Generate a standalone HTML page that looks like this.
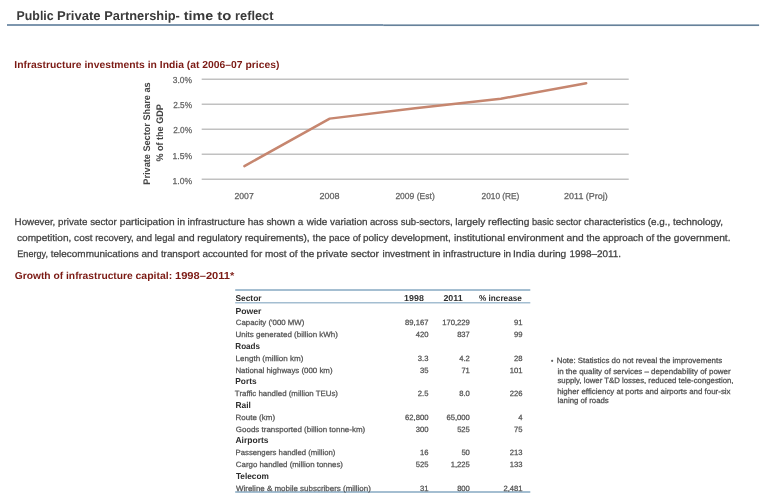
<!DOCTYPE html>
<html lang="en"><head><meta charset="utf-8"><title>Public Private Partnership- time to reflect</title>
<style>
html,body{margin:0;padding:0;background:#fff;}
body{width:771px;height:495px;overflow:hidden;}
svg{display:block;will-change:transform;font-family:'Liberation Sans', sans-serif;text-rendering:geometricPrecision;}
</style></head><body>
<svg width="771" height="495" viewBox="0 0 771 495">
<line x1="201.7" x2="628.7" y1="79.28" y2="79.28" stroke="#c1c1c1" stroke-width="1.45"/>
<line x1="201.7" x2="628.7" y1="104.25" y2="104.25" stroke="#c1c1c1" stroke-width="1.45"/>
<line x1="201.7" x2="628.7" y1="129.22" y2="129.22" stroke="#c1c1c1" stroke-width="1.45"/>
<line x1="201.7" x2="628.7" y1="154.19" y2="154.19" stroke="#c1c1c1" stroke-width="1.45"/>
<line x1="201.7" x2="628.7" y1="179.16" y2="179.16" stroke="#c1c1c1" stroke-width="1.45"/>
<polyline fill="none" stroke="#c6866f" stroke-width="2.45" stroke-linejoin="round" stroke-linecap="round" points="244.4,166.1 329.7,118.6 415.1,108.2 500.8,98.7 586.2,83.2"/>
<rect x="7" y="24" width="376.2" height="2" fill="#7d96ae"/>
<rect x="383.2" y="24.4" width="375.9" height="1.65" fill="#66819a"/>
<line x1="235.2" x2="530.3" y1="289.95" y2="289.95" stroke="#a4bed1" stroke-width="1.9"/>
<line x1="235.2" x2="530.3" y1="302.8" y2="302.8" stroke="#a4bed1" stroke-width="1.4"/>
<line x1="235.2" x2="530.3" y1="492.0" y2="492.0" stroke="#a4bed1" stroke-width="1.8"/>
<text x="16.56" y="19.90" xml:space="preserve" style="white-space:pre" textLength="40.50" lengthAdjust="spacingAndGlyphs" font-size="12.8" fill="#3a3a3a" font-weight="bold">Public </text>
<text x="56.98" y="19.90" xml:space="preserve" style="white-space:pre" textLength="47.20" lengthAdjust="spacingAndGlyphs" font-size="12.8" fill="#3a3a3a" font-weight="bold">Private </text>
<text x="104.28" y="19.90" xml:space="preserve" style="white-space:pre" textLength="79.20" lengthAdjust="spacingAndGlyphs" font-size="12.8" fill="#3a3a3a" font-weight="bold">Partnership- </text>
<text x="183.84" y="19.90" xml:space="preserve" style="white-space:pre" textLength="33.40" lengthAdjust="spacingAndGlyphs" font-size="12.8" fill="#3a3a3a" font-weight="bold">time </text>
<text x="217.37" y="19.90" xml:space="preserve" style="white-space:pre" textLength="18.20" lengthAdjust="spacingAndGlyphs" font-size="12.8" fill="#3a3a3a" font-weight="bold">to </text>
<text x="235.08" y="19.90" textLength="38.36" lengthAdjust="spacingAndGlyphs" font-size="12.8" fill="#3a3a3a" font-weight="bold">reflect</text>
<text x="14.31" y="68.40" textLength="265.08" lengthAdjust="spacingAndGlyphs" font-size="10.1" fill="#7b1a14" font-weight="bold">Infrastructure investments in India (at 2006–07 prices)</text>
<text x="14.71" y="279.40" xml:space="preserve" style="white-space:pre" textLength="120.90" lengthAdjust="spacingAndGlyphs" font-size="10.1" fill="#7b1a14" font-weight="bold">Growth of infrastructure </text>
<text x="135.55" y="279.40" xml:space="preserve" style="white-space:pre" textLength="39.60" lengthAdjust="spacingAndGlyphs" font-size="10.1" fill="#7b1a14" font-weight="bold">capital: </text>
<text x="175.01" y="279.40" textLength="59.39" lengthAdjust="spacingAndGlyphs" font-size="10.1" fill="#7b1a14" font-weight="bold">1998–2011*</text>
<text x="14.59" y="225.10" xml:space="preserve" style="white-space:pre" textLength="104.90" lengthAdjust="spacingAndGlyphs" font-size="9.5" fill="#404040" stroke="#404040" stroke-width="0.25">However, private sector </text>
<text x="119.80" y="225.10" xml:space="preserve" style="white-space:pre" textLength="68.30" lengthAdjust="spacingAndGlyphs" font-size="9.5" fill="#404040" stroke="#404040" stroke-width="0.25">participation in </text>
<text x="187.49" y="225.10" xml:space="preserve" style="white-space:pre" textLength="118.40" lengthAdjust="spacingAndGlyphs" font-size="9.5" fill="#404040" stroke="#404040" stroke-width="0.25">infrastructure has shown a </text>
<text x="306.82" y="225.10" xml:space="preserve" style="white-space:pre" textLength="63.40" lengthAdjust="spacingAndGlyphs" font-size="9.5" fill="#404040" stroke="#404040" stroke-width="0.25">wide variation </text>
<text x="370.04" y="225.10" xml:space="preserve" style="white-space:pre" textLength="85.30" lengthAdjust="spacingAndGlyphs" font-size="9.5" fill="#404040" stroke="#404040" stroke-width="0.25">across sub-sectors, </text>
<text x="455.29" y="225.10" xml:space="preserve" style="white-space:pre" textLength="76.90" lengthAdjust="spacingAndGlyphs" font-size="9.5" fill="#404040" stroke="#404040" stroke-width="0.25">largely reflecting </text>
<text x="531.98" y="225.10" xml:space="preserve" style="white-space:pre" textLength="51.90" lengthAdjust="spacingAndGlyphs" font-size="9.5" fill="#404040" stroke="#404040" stroke-width="0.25">basic sector </text>
<text x="584.06" y="225.10" xml:space="preserve" style="white-space:pre" textLength="64.00" lengthAdjust="spacingAndGlyphs" font-size="9.5" fill="#404040" stroke="#404040" stroke-width="0.25">characteristics </text>
<text x="647.79" y="225.10" textLength="75.24" lengthAdjust="spacingAndGlyphs" font-size="9.5" fill="#404040" stroke="#404040" stroke-width="0.25">(e.g., technology,</text>
<text x="17.07" y="240.90" xml:space="preserve" style="white-space:pre" textLength="78.30" lengthAdjust="spacingAndGlyphs" font-size="9.5" fill="#404040" stroke="#404040" stroke-width="0.25">competition, cost </text>
<text x="95.19" y="240.90" xml:space="preserve" style="white-space:pre" textLength="82.30" lengthAdjust="spacingAndGlyphs" font-size="9.5" fill="#404040" stroke="#404040" stroke-width="0.25">recovery, and legal </text>
<text x="177.73" y="240.90" xml:space="preserve" style="white-space:pre" textLength="67.20" lengthAdjust="spacingAndGlyphs" font-size="9.5" fill="#404040" stroke="#404040" stroke-width="0.25">and regulatory </text>
<text x="244.66" y="240.90" xml:space="preserve" style="white-space:pre" textLength="67.80" lengthAdjust="spacingAndGlyphs" font-size="9.5" fill="#404040" stroke="#404040" stroke-width="0.25">requirements), </text>
<text x="312.80" y="240.90" xml:space="preserve" style="white-space:pre" textLength="50.60" lengthAdjust="spacingAndGlyphs" font-size="9.5" fill="#404040" stroke="#404040" stroke-width="0.25">the pace of </text>
<text x="363.07" y="240.90" xml:space="preserve" style="white-space:pre" textLength="90.40" lengthAdjust="spacingAndGlyphs" font-size="9.5" fill="#404040" stroke="#404040" stroke-width="0.25">policy development, </text>
<text x="453.96" y="240.90" xml:space="preserve" style="white-space:pre" textLength="53.80" lengthAdjust="spacingAndGlyphs" font-size="9.5" fill="#404040" stroke="#404040" stroke-width="0.25">institutional </text>
<text x="507.56" y="240.90" xml:space="preserve" style="white-space:pre" textLength="78.90" lengthAdjust="spacingAndGlyphs" font-size="9.5" fill="#404040" stroke="#404040" stroke-width="0.25">environment and </text>
<text x="586.62" y="240.90" xml:space="preserve" style="white-space:pre" textLength="70.30" lengthAdjust="spacingAndGlyphs" font-size="9.5" fill="#404040" stroke="#404040" stroke-width="0.25">the approach of </text>
<text x="656.70" y="240.90" textLength="73.86" lengthAdjust="spacingAndGlyphs" font-size="9.5" fill="#404040" stroke="#404040" stroke-width="0.25">the government.</text>
<text x="17.29" y="256.60" xml:space="preserve" style="white-space:pre" textLength="33.20" lengthAdjust="spacingAndGlyphs" font-size="9.5" fill="#404040" stroke="#404040" stroke-width="0.25">Energy, </text>
<text x="50.80" y="256.60" xml:space="preserve" style="white-space:pre" textLength="110.10" lengthAdjust="spacingAndGlyphs" font-size="9.5" fill="#404040" stroke="#404040" stroke-width="0.25">telecommunications and </text>
<text x="160.90" y="256.60" xml:space="preserve" style="white-space:pre" textLength="89.70" lengthAdjust="spacingAndGlyphs" font-size="9.5" fill="#404040" stroke="#404040" stroke-width="0.25">transport accounted </text>
<text x="250.70" y="256.60" xml:space="preserve" style="white-space:pre" textLength="66.30" lengthAdjust="spacingAndGlyphs" font-size="9.5" fill="#404040" stroke="#404040" stroke-width="0.25">for most of the </text>
<text x="316.60" y="256.60" xml:space="preserve" style="white-space:pre" textLength="65.40" lengthAdjust="spacingAndGlyphs" font-size="9.5" fill="#404040" stroke="#404040" stroke-width="0.25">private sector </text>
<text x="382.47" y="256.60" xml:space="preserve" style="white-space:pre" textLength="60.60" lengthAdjust="spacingAndGlyphs" font-size="9.5" fill="#404040" stroke="#404040" stroke-width="0.25">investment in </text>
<text x="443.14" y="256.60" xml:space="preserve" style="white-space:pre" textLength="70.70" lengthAdjust="spacingAndGlyphs" font-size="9.5" fill="#404040" stroke="#404040" stroke-width="0.25">infrastructure in </text>
<text x="513.00" y="256.60" xml:space="preserve" style="white-space:pre" textLength="56.10" lengthAdjust="spacingAndGlyphs" font-size="9.5" fill="#404040" stroke="#404040" stroke-width="0.25">India during </text>
<text x="569.40" y="256.60" textLength="51.57" lengthAdjust="spacingAndGlyphs" font-size="9.5" fill="#404040" stroke="#404040" stroke-width="0.25">1998–2011.</text>
<text x="172.82" y="83.10" textLength="19.18" lengthAdjust="spacingAndGlyphs" font-size="8.7" fill="#626262" stroke="#626262" stroke-width="0.25">3.0%</text>
<text x="173.15" y="108.25" textLength="18.85" lengthAdjust="spacingAndGlyphs" font-size="8.7" fill="#626262" stroke="#626262" stroke-width="0.25">2.5%</text>
<text x="173.15" y="133.40" textLength="18.85" lengthAdjust="spacingAndGlyphs" font-size="8.7" fill="#626262" stroke="#626262" stroke-width="0.25">2.0%</text>
<text x="172.56" y="158.55" textLength="19.47" lengthAdjust="spacingAndGlyphs" font-size="8.7" fill="#626262" stroke="#626262" stroke-width="0.25">1.5%</text>
<text x="172.56" y="183.70" textLength="19.47" lengthAdjust="spacingAndGlyphs" font-size="8.7" fill="#626262" stroke="#626262" stroke-width="0.25">1.0%</text>
<text x="234.50" y="199.00" textLength="19.19" lengthAdjust="spacingAndGlyphs" font-size="8.7" fill="#626262" stroke="#626262" stroke-width="0.25">2007</text>
<text x="319.60" y="199.00" textLength="20.00" lengthAdjust="spacingAndGlyphs" font-size="8.7" fill="#626262" stroke="#626262" stroke-width="0.25">2008</text>
<text x="395.39" y="199.00" textLength="39.39" lengthAdjust="spacingAndGlyphs" font-size="8.7" fill="#626262" stroke="#626262" stroke-width="0.25">2009 (Est)</text>
<text x="481.56" y="199.00" textLength="37.84" lengthAdjust="spacingAndGlyphs" font-size="8.7" fill="#626262" stroke="#626262" stroke-width="0.25">2010 (RE)</text>
<text x="564.14" y="199.00" textLength="43.64" lengthAdjust="spacingAndGlyphs" font-size="8.7" fill="#626262" stroke="#626262" stroke-width="0.25">2011 (Proj)</text>
<text x="235.40" y="301.20" textLength="26.16" lengthAdjust="spacingAndGlyphs" font-size="8.6" fill="#2e2e2e" font-weight="bold">Sector</text>
<text x="404.12" y="301.20" textLength="19.77" lengthAdjust="spacingAndGlyphs" font-size="8.6" fill="#2e2e2e" font-weight="bold">1998</text>
<text x="443.41" y="301.20" textLength="19.29" lengthAdjust="spacingAndGlyphs" font-size="8.6" fill="#2e2e2e" font-weight="bold">2011</text>
<text x="479.02" y="301.20" textLength="42.80" lengthAdjust="spacingAndGlyphs" font-size="8.6" fill="#2e2e2e" font-weight="bold">% increase</text>
<text x="235.50" y="313.50" textLength="25.88" lengthAdjust="spacingAndGlyphs" font-size="8.6" fill="#2e2e2e" font-weight="bold">Power</text>
<text x="235.86" y="325.31" textLength="68.39" lengthAdjust="spacingAndGlyphs" font-size="7.65" fill="#525252" stroke="#525252" stroke-width="0.25">Capacity ('000 MW)</text>
<text x="428.40" y="325.31" text-anchor="end" font-size="7.65" fill="#525252" stroke="#525252" stroke-width="0.25">89,167</text>
<text x="469.89" y="325.31" text-anchor="end" font-size="7.65" fill="#525252" stroke="#525252" stroke-width="0.25">170,229</text>
<text x="522.59" y="325.31" text-anchor="end" font-size="7.65" fill="#525252" stroke="#525252" stroke-width="0.25">91</text>
<text x="235.62" y="337.13" textLength="102.30" lengthAdjust="spacingAndGlyphs" font-size="7.65" fill="#525252" stroke="#525252" stroke-width="0.25">Units generated (billion kWh)</text>
<text x="428.40" y="337.13" text-anchor="end" font-size="7.65" fill="#525252" stroke="#525252" stroke-width="0.25">420</text>
<text x="469.89" y="337.13" text-anchor="end" font-size="7.65" fill="#525252" stroke="#525252" stroke-width="0.25">837</text>
<text x="522.59" y="337.13" text-anchor="end" font-size="7.65" fill="#525252" stroke="#525252" stroke-width="0.25">99</text>
<text x="235.34" y="348.94" textLength="24.73" lengthAdjust="spacingAndGlyphs" font-size="8.6" fill="#2e2e2e" font-weight="bold">Roads</text>
<text x="235.51" y="360.75" textLength="67.96" lengthAdjust="spacingAndGlyphs" font-size="7.65" fill="#525252" stroke="#525252" stroke-width="0.25">Length (million km)</text>
<text x="428.40" y="360.75" text-anchor="end" font-size="7.65" fill="#525252" stroke="#525252" stroke-width="0.25">3.3</text>
<text x="469.89" y="360.75" text-anchor="end" font-size="7.65" fill="#525252" stroke="#525252" stroke-width="0.25">4.2</text>
<text x="522.59" y="360.75" text-anchor="end" font-size="7.65" fill="#525252" stroke="#525252" stroke-width="0.25">28</text>
<text x="235.44" y="372.56" textLength="97.11" lengthAdjust="spacingAndGlyphs" font-size="7.65" fill="#525252" stroke="#525252" stroke-width="0.25">National highways (000 km)</text>
<text x="428.40" y="372.56" text-anchor="end" font-size="7.65" fill="#525252" stroke="#525252" stroke-width="0.25">35</text>
<text x="469.89" y="372.56" text-anchor="end" font-size="7.65" fill="#525252" stroke="#525252" stroke-width="0.25">71</text>
<text x="522.59" y="372.56" text-anchor="end" font-size="7.65" fill="#525252" stroke="#525252" stroke-width="0.25">101</text>
<text x="235.31" y="384.38" textLength="21.26" lengthAdjust="spacingAndGlyphs" font-size="8.6" fill="#2e2e2e" font-weight="bold">Ports</text>
<text x="234.87" y="396.19" textLength="103.14" lengthAdjust="spacingAndGlyphs" font-size="7.65" fill="#525252" stroke="#525252" stroke-width="0.25">Traffic handled (million TEUs)</text>
<text x="428.40" y="396.19" text-anchor="end" font-size="7.65" fill="#525252" stroke="#525252" stroke-width="0.25">2.5</text>
<text x="469.89" y="396.19" text-anchor="end" font-size="7.65" fill="#525252" stroke="#525252" stroke-width="0.25">8.0</text>
<text x="522.59" y="396.19" text-anchor="end" font-size="7.65" fill="#525252" stroke="#525252" stroke-width="0.25">226</text>
<text x="235.54" y="408.00" textLength="15.40" lengthAdjust="spacingAndGlyphs" font-size="8.6" fill="#2e2e2e" font-weight="bold">Rail</text>
<text x="235.54" y="419.82" textLength="39.54" lengthAdjust="spacingAndGlyphs" font-size="7.65" fill="#525252" stroke="#525252" stroke-width="0.25">Route (km)</text>
<text x="428.40" y="419.82" text-anchor="end" font-size="7.65" fill="#525252" stroke="#525252" stroke-width="0.25">62,800</text>
<text x="469.89" y="419.82" text-anchor="end" font-size="7.65" fill="#525252" stroke="#525252" stroke-width="0.25">65,000</text>
<text x="522.59" y="419.82" text-anchor="end" font-size="7.65" fill="#525252" stroke="#525252" stroke-width="0.25">4</text>
<text x="235.86" y="431.63" textLength="129.35" lengthAdjust="spacingAndGlyphs" font-size="7.65" fill="#525252" stroke="#525252" stroke-width="0.25">Goods transported (billion tonne-km)</text>
<text x="428.40" y="431.63" text-anchor="end" font-size="7.65" fill="#525252" stroke="#525252" stroke-width="0.25">300</text>
<text x="469.89" y="431.63" text-anchor="end" font-size="7.65" fill="#525252" stroke="#525252" stroke-width="0.25">525</text>
<text x="522.59" y="431.63" text-anchor="end" font-size="7.65" fill="#525252" stroke="#525252" stroke-width="0.25">75</text>
<text x="235.49" y="443.44" textLength="33.08" lengthAdjust="spacingAndGlyphs" font-size="8.6" fill="#2e2e2e" font-weight="bold">Airports</text>
<text x="235.57" y="455.26" textLength="99.79" lengthAdjust="spacingAndGlyphs" font-size="7.65" fill="#525252" stroke="#525252" stroke-width="0.25">Passengers handled (million)</text>
<text x="428.40" y="455.26" text-anchor="end" font-size="7.65" fill="#525252" stroke="#525252" stroke-width="0.25">16</text>
<text x="469.89" y="455.26" text-anchor="end" font-size="7.65" fill="#525252" stroke="#525252" stroke-width="0.25">50</text>
<text x="522.59" y="455.26" text-anchor="end" font-size="7.65" fill="#525252" stroke="#525252" stroke-width="0.25">213</text>
<text x="235.85" y="467.07" textLength="107.14" lengthAdjust="spacingAndGlyphs" font-size="7.65" fill="#525252" stroke="#525252" stroke-width="0.25">Cargo handled (million tonnes)</text>
<text x="428.40" y="467.07" text-anchor="end" font-size="7.65" fill="#525252" stroke="#525252" stroke-width="0.25">525</text>
<text x="469.89" y="467.07" text-anchor="end" font-size="7.65" fill="#525252" stroke="#525252" stroke-width="0.25">1,225</text>
<text x="522.59" y="467.07" text-anchor="end" font-size="7.65" fill="#525252" stroke="#525252" stroke-width="0.25">133</text>
<text x="235.95" y="478.88" textLength="32.92" lengthAdjust="spacingAndGlyphs" font-size="8.6" fill="#2e2e2e" font-weight="bold">Telecom</text>
<text x="236.00" y="490.70" textLength="134.87" lengthAdjust="spacingAndGlyphs" font-size="7.65" fill="#525252" stroke="#525252" stroke-width="0.25">Wireline &amp; mobile subscribers (million)</text>
<text x="428.40" y="490.70" text-anchor="end" font-size="7.65" fill="#525252" stroke="#525252" stroke-width="0.25">31</text>
<text x="469.89" y="490.70" text-anchor="end" font-size="7.65" fill="#525252" stroke="#525252" stroke-width="0.25">800</text>
<text x="522.59" y="490.70" text-anchor="end" font-size="7.65" fill="#525252" stroke="#525252" stroke-width="0.25">2,481</text>
<text x="556.75" y="362.80" textLength="165.41" lengthAdjust="spacingAndGlyphs" font-size="7.7" fill="#4e4e4e" stroke="#4e4e4e" stroke-width="0.25">Note: Statistics do not reveal the improvements</text>
<text x="557.49" y="373.80" textLength="173.12" lengthAdjust="spacingAndGlyphs" font-size="7.7" fill="#4e4e4e" stroke="#4e4e4e" stroke-width="0.25">in the quality of services – dependability of power</text>
<text x="557.47" y="383.30" textLength="176.01" lengthAdjust="spacingAndGlyphs" font-size="7.7" fill="#4e4e4e" stroke="#4e4e4e" stroke-width="0.25">supply, lower T&amp;D losses, reduced tele-congestion,</text>
<text x="557.20" y="394.00" textLength="173.39" lengthAdjust="spacingAndGlyphs" font-size="7.7" fill="#4e4e4e" stroke="#4e4e4e" stroke-width="0.25">higher efficiency at ports and airports and four-six</text>
<text x="557.55" y="403.40" textLength="51.18" lengthAdjust="spacingAndGlyphs" font-size="7.7" fill="#4e4e4e" stroke="#4e4e4e" stroke-width="0.25">laning of roads</text>
<text x="550.95" y="362.50" font-size="6.6" fill="#4e4e4e" stroke="#4e4e4e" stroke-width="0.25">•</text>
<text transform="translate(150.00,184.66) rotate(-90)" textLength="102.27" lengthAdjust="spacingAndGlyphs" font-size="9.6" fill="#444" font-weight="bold">Private Sector Share as</text>
<text transform="translate(163.20,161.59) rotate(-90)" textLength="57.36" lengthAdjust="spacingAndGlyphs" font-size="9.6" fill="#444" font-weight="bold">% of the GDP</text>
</svg>
</body></html>
